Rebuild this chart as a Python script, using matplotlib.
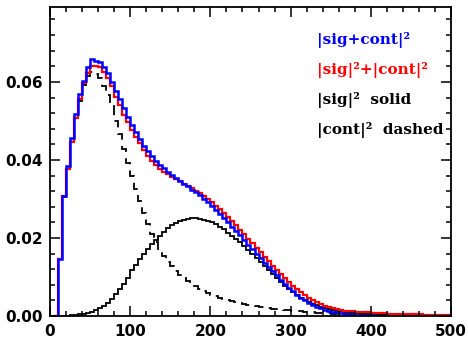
import numpy as np
import matplotlib
matplotlib.use("Agg")
import matplotlib.pyplot as plt
from matplotlib.ticker import MultipleLocator, FormatStrFormatter

# bin edges: 0..500 in steps of 5 (100 bins)
bin_width = 5
x_min, x_max = 0, 500

# |sig+cont|^2  (blue)
sig_plus_cont = [
    0, 0,
    .0146, .0308, .0385, .0455, .0517, .0568, .0603, .0638,
    .0659, .0653, .0651, .0639, .0622, .0601, .0577, .0556, .0533, .0509,
    .0489, .0471, .0453, .0437, .0422, .0409, .0398, .0388, .0379, .0370,
    .0362, .0354, .0346, .0339, .0332, .0324, .0317, .0309, .0300, .0291,
    .0282, .0272, .0262, .0251, .0240, .0229, .0218, .0207, .0195, .0183,
    .0172, .0160, .0149, .0137, .0126, .0115, .0104, .0093, .0083, .0073,
    .0064, .0055, .0047, .0040, .0034, .0028, .0024, .0020, .0016, .0013,
    .0011, .0009, .0007, .0006, .0005, .0004, .0003, .0003, .0002, .0002,
    .0002, .0001, .0001, .0001, .0001, .0001, .0001, .0001, .0001, .0001,
    .0001, .0001, .0001, .0001, .0001, .0000, .0000, .0000, .0000, .0000,
]

# |sig|^2 + |cont|^2  (red)
sig2_plus_cont2 = [
    0, 0,
    .0146, .0307, .0378, .0447, .0507, .0556, .0598, .0624,
    .0642, .0641, .0638, .0626, .0611, .0590, .0562, .0541, .0515, .0496,
    .0477, .0460, .0443, .0426, .0411, .0398, .0387, .0378, .0370, .0363,
    .0357, .0351, .0345, .0339, .0333, .0327, .0321, .0314, .0307, .0299,
    .0291, .0282, .0273, .0263, .0253, .0243, .0232, .0221, .0209, .0197,
    .0186, .0175, .0163, .0152, .0140, .0129, .0118, .0108, .0097, .0087,
    .0078, .0069, .0061, .0053, .0046, .0040, .0035, .0030, .0026, .0023,
    .0020, .0018, .0016, .0014, .0013, .0012, .0011, .0010, .0009, .0009,
    .0008, .0008, .0007, .0007, .0006, .0006, .0005, .0005, .0005, .0004,
    .0004, .0004, .0004, .0003, .0003, .0003, .0003, .0003, .0003, .0003,
]

# |sig|^2  (black solid)
sig2 = [
    0, 0,
    .0000, .0001, .0001, .0002, .0003, .0004, .0006, .0008,
    .0011, .0015, .0020, .0026, .0034, .0044, .0056, .0069, .0083, .0098,
    .0117, .0132, .0146, .0160, .0173, .0185, .0196, .0206, .0216, .0225,
    .0232, .0238, .0243, .0247, .0249, .0250, .0250, .0249, .0247, .0244,
    .0240, .0235, .0229, .0222, .0214, .0206, .0198, .0189, .0179, .0169,
    .0159, .0148, .0138, .0128, .0118, .0107, .0097, .0087, .0078, .0069,
    .0061, .0053, .0047, .0041, .0036, .0031, .0027, .0024, .0021, .0018,
    .0016, .0014, .0012, .0010, .0009, .0008, .0007, .0006, .0005, .0005,
    .0004, .0004, .0003, .0003, .0003, .0002, .0002, .0002, .0002, .0002,
    .0001, .0001, .0001, .0001, .0001, .0001, .0001, .0001, .0001, .0001,
]

# |cont|^2  (black dashed)
cont2 = [
    0, 0,
    .0146, .0306, .0377, .0445, .0504, .0552, .0592, .0616,
    .0625, .0620, .0610, .0590, .0567, .0537, .0500, .0466, .0428, .0393,
    .0358, .0326, .0296, .0265, .0236, .0210, .0189, .0171, .0154, .0139,
    .0127, .0116, .0106, .0097, .0089, .0082, .0076, .0070, .0064, .0059,
    .0055, .0051, .0047, .0044, .0041, .0038, .0036, .0033, .0031, .0029,
    .0027, .0025, .0024, .0022, .0021, .0019, .0018, .0017, .0016, .0015,
    .0014, .0013, .0012, .0011, .0010, .0009, .0008, .0008, .0007, .0007,
    .0006, .0006, .0005, .0005, .0005, .0004, .0004, .0004, .0003, .0003,
    .0003, .0003, .0003, .0002, .0002, .0002, .0002, .0002, .0002, .0002,
    .0002, .0001, .0001, .0001, .0001, .0001, .0001, .0001, .0001, .0001,
]

legend_labels = ["|sig+cont|²", "|sig|²+|cont|²", "|sig|²  solid", "|cont|²  dashed"]
legend_colors = ["#0000ff", "#ff0000", "black", "black"]

x_ticks = [0, 100, 200, 300, 400, 500]
y_ticks = [0.00, 0.02, 0.04, 0.06]

edges = np.arange(x_min, x_max + bin_width, bin_width)

fig = plt.figure(figsize=(4.68, 3.40), dpi=100)
ax = fig.add_axes([50 / 468, 24 / 340, 401 / 468, 309 / 340])

ax.stairs(cont2, edges, color="black", lw=1.3, linestyle=(0, (5.5, 3.5)), baseline=None)
ax.stairs(sig2, edges, color="black", lw=1.3, baseline=None)
ax.stairs(sig2_plus_cont2, edges, color="#ff0000", lw=1.6, baseline=None)
ax.stairs(sig_plus_cont, edges, color="#0000ff", lw=1.8, baseline=None)

ax.set_xlim(x_min, x_max)
ax.set_ylim(0, 0.0792)
ax.set_xticks(x_ticks)
ax.set_yticks(y_ticks)
ax.xaxis.set_minor_locator(MultipleLocator(20))
ax.yaxis.set_minor_locator(MultipleLocator(0.004))
ax.yaxis.set_major_formatter(FormatStrFormatter("%.2f"))

ax.tick_params(which="both", direction="in", top=True, right=True, width=1.1)
ax.tick_params(which="major", length=7)
ax.tick_params(which="minor", length=3.5)
ax.tick_params(axis="x", pad=6)
ax.tick_params(axis="y", pad=5)
for lab in ax.get_xticklabels() + ax.get_yticklabels():
    lab.set_fontfamily("DejaVu Sans")
    lab.set_fontweight("bold")
    lab.set_fontsize(11)
for sp in ax.spines.values():
    sp.set_linewidth(1.3)

ys = [0.893, 0.796, 0.699, 0.602]
for lab, col, yy in zip(legend_labels, legend_colors, ys):
    ax.text(0.666, yy, lab, color=col, transform=ax.transAxes, ha="left", va="center",
            fontfamily="DejaVu Serif", fontweight="bold", fontsize=11)

fig.savefig("out.png", dpi=100)
